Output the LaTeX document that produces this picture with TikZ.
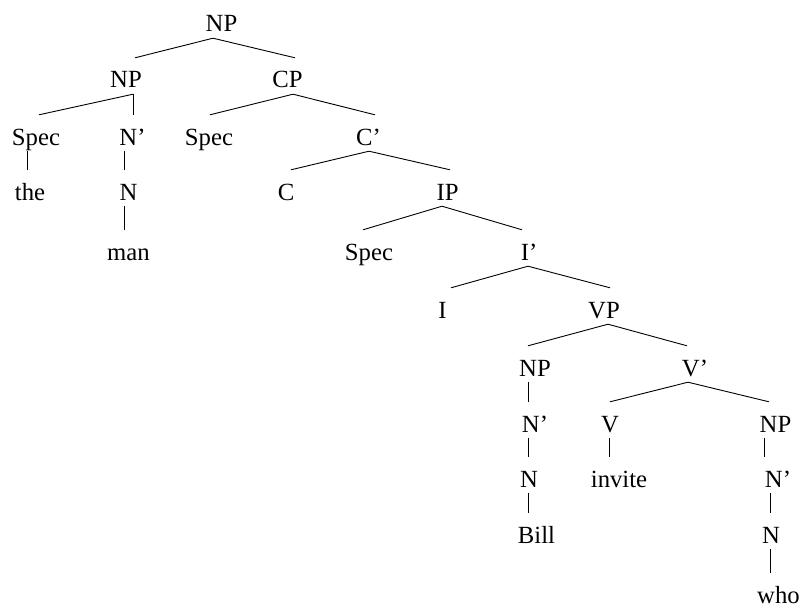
\documentclass[tikz,border=0pt]{standalone}
\usepackage{fontspec}
\setmainfont{Liberation Serif}
\begin{document}
\begin{tikzpicture}[x=1pt,y=-1pt,
  lab/.style={anchor=base,inner sep=0pt,text height=30pt,text depth=6pt,font=\fontsize{24.7}{29}\selectfont},
  br/.style={line width=0.9pt}]
\useasboundingbox (0,0) rectangle (802,607);
\newcommand\tedge[4]{\draw[br] ([xshift=#2pt]#1.south) -- ([xshift=#4pt]#3.north);}
% rows
\node[lab] (np0) at (221.5,32) {NP};
\node[lab] (np1) at (126,88) {NP};
\node[lab] (cp) at (287.5,88) {CP};
\node[lab] (spec1) at (36,145) {Spec};
\node[lab] (nbar1) at (132.5,145) {N’};
\node[lab] (spec2) at (209,145) {Spec};
\node[lab] (cbar) at (368.5,145) {C’};
\node[lab] (the) at (30,200) {the};
\node[lab] (n1) at (128.5,200) {N};
\node[lab] (c) at (286,200) {C};
\node[lab] (ip) at (447.5,200) {IP};
\node[lab] (man) at (128.5,260) {man};
\node[lab] (spec3) at (369,260) {Spec};
\node[lab] (ibar) at (529,260) {I’};
\node[lab] (i) at (442.5,318) {I};
\node[lab] (vp) at (604,318) {VP};
\node[lab] (np2) at (535,376) {NP};
\node[lab] (vbar) at (695,376) {V’};
\node[lab] (nbar2) at (535,432) {N’};
\node[lab] (v) at (610,432) {V};
\node[lab] (np3) at (775.5,432) {NP};
\node[lab] (n2) at (529,487) {N};
\node[lab] (invite) at (619,487) {invite};
\node[lab] (nbar3) at (778,487) {N’};
\node[lab] (bill) at (536.5,543) {Bill};
\node[lab] (n3) at (771,543) {N};
\node[lab] (who) at (778.5,603) {who};
% branches
\tedge{np0}{-8.5}{np1}{9}
\tedge{np0}{-8.5}{cp}{7.5}
\tedge{np1}{7}{spec1}{3}
\tedge{np1}{7}{nbar1}{0.5}
\tedge{cp}{5.5}{spec2}{1}
\tedge{cp}{5.5}{cbar}{6.5}
\tedge{cbar}{0.5}{c}{5}
\tedge{cbar}{0.5}{ip}{2.5}
\tedge{ip}{-5.5}{spec3}{-6}
\tedge{ip}{-5.5}{ibar}{-7}
\tedge{ibar}{-1}{i}{8.5}
\tedge{ibar}{-1}{vp}{6}
\tedge{vp}{4}{np2}{-7}
\tedge{vp}{4}{vbar}{-8}
\tedge{vbar}{-7}{v}{0}
\tedge{vbar}{-7}{np3}{-6.5}
\tedge{spec1}{-9}{the}{-3}
\tedge{nbar1}{-8.5}{n1}{-4.5}
\tedge{n1}{-4.5}{man}{-4.5}
\tedge{np2}{-7}{nbar2}{-7}
\tedge{nbar2}{-7}{n2}{-1}
\tedge{n2}{-1}{bill}{-8.5}
\tedge{v}{-1}{invite}{-10}
\tedge{np3}{-11.5}{nbar3}{-14}
\tedge{nbar3}{-8}{n3}{-1}
\tedge{n3}{-1}{who}{-8.5}
\end{tikzpicture}
\end{document}
